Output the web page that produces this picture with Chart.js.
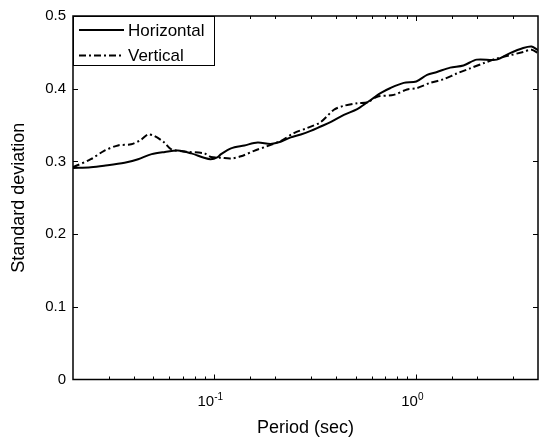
<!DOCTYPE html>
<html><head><meta charset="utf-8">
<script src="https://cdn.jsdelivr.net/npm/chart.js@4.4.0/dist/chart.umd.min.js"></script>
<style>html,body{margin:0;padding:0;background:#fff}#wrap{width:540px;height:440px}</style>
</head><body><div id="wrap"><canvas id="c" width="540" height="440"></canvas></div>
<script>
const seriesNames = ['Horizontal', 'Vertical'];
const periodsH = [0.02,0.0245,0.0285,0.036,0.042,0.049,0.057,0.066,0.077,0.089,0.096,0.104,0.108,0.121,0.141,0.164,0.19,0.213,0.239,0.268,0.30,0.336,0.376,0.438,0.51,0.57,0.62,0.665,0.745,0.866,1.0,1.13,1.265,1.47,1.71,1.99,2.5,2.91,3.38,3.72,4.0];
const valuesH  = [0.291,0.292,0.294,0.298,0.303,0.310,0.313,0.315,0.311,0.305,0.303,0.306,0.310,0.318,0.322,0.326,0.324,0.327,0.333,0.337,0.342,0.348,0.354,0.364,0.372,0.381,0.388,0.394,0.401,0.408,0.410,0.419,0.423,0.429,0.432,0.440,0.440,0.449,0.456,0.458,0.453];
const periodsV = [0.02,0.0245,0.0285,0.0334,0.0388,0.0435,0.047,0.0506,0.0566,0.0611,0.0711,0.0893,0.0963,0.108,0.121,0.1355,0.1575,0.183,0.213,0.248,0.289,0.336,0.391,0.438,0.51,0.571,0.64,0.773,0.90,1.0,1.172,1.364,1.588,1.846,2.148,2.5,2.91,3.38,3.72,4.0];
const valuesV  = [0.292,0.303,0.3145,0.322,0.3235,0.330,0.337,0.335,0.326,0.317,0.3135,0.311,0.306,0.305,0.304,0.307,0.3145,0.321,0.328,0.339,0.346,0.354,0.371,0.3765,0.380,0.381,0.389,0.3915,0.399,0.4006,0.408,0.413,0.421,0.428,0.435,0.4415,0.446,0.4506,0.4537,0.449];
const yTickValues = [0, 0.1, 0.2, 0.3, 0.4, 0.5];
const xTickLabels = [{value: 0.1, base: '10', exp: '-1'}, {value: 1, base: '10', exp: '0'}];
const xRange = [0.02, 4];
const yRange = [0, 0.5];

function pts(xs, ys) { return xs.map((x, i) => ({x: x, y: ys[i]})); }

const FONT = 'Arial, "Liberation Sans", sans-serif';

const framePlugin = {
  id: 'frame',
  afterDraw(chart) {
    const {ctx, chartArea: a, scales: {x, y}} = chart;
    ctx.save();
    ctx.strokeStyle = '#000';
    ctx.lineWidth = 1.5;
    ctx.setLineDash([]);
    ctx.strokeRect(a.left, a.top, a.right - a.left, a.bottom - a.top);
    // x ticks (inward, bottom & top)
    ctx.lineWidth = 1;
    x.ticks.forEach(t => {
      const v = t.value;
      if (v <= xRange[0] || v >= xRange[1]) return;
      const px = Math.round(x.getPixelForValue(v)) + 0.5;
      const lg = Math.log10(v);
      const major = Math.abs(lg - Math.round(lg)) < 1e-9;
      const len = major ? 5 : 3;
      ctx.beginPath();
      ctx.moveTo(px, a.bottom); ctx.lineTo(px, a.bottom - len);
      ctx.moveTo(px, a.top); ctx.lineTo(px, a.top + len);
      ctx.stroke();
    });
    // y ticks (inward, left & right)
    yTickValues.forEach(v => {
      if (v <= yRange[0] || v >= yRange[1]) return;
      const py = Math.round(y.getPixelForValue(v)) + 0.5;
      ctx.beginPath();
      ctx.moveTo(a.left, py); ctx.lineTo(a.left + 5, py);
      ctx.moveTo(a.right, py); ctx.lineTo(a.right - 5, py);
      ctx.stroke();
    });
    // x tick labels with superscript
    ctx.fillStyle = '#000';
    ctx.textBaseline = 'alphabetic';
    ctx.textAlign = 'left';
    xTickLabels.forEach(l => {
      const px = x.getPixelForValue(l.value);
      ctx.font = '15px ' + FONT;
      const wb = ctx.measureText(l.base).width;
      ctx.font = '10px ' + FONT;
      const we = ctx.measureText(l.exp).width;
      const start = px - 4 - (wb + we) / 2;
      ctx.font = '15px ' + FONT;
      ctx.fillText(l.base, start, a.bottom + 26);
      ctx.font = '10px ' + FONT;
      ctx.fillText(l.exp, start + wb, a.bottom + 20);
    });
    // legend
    const lx = a.left, ly = a.top, lw = 141, lh = 49;
    ctx.fillStyle = '#fff';
    ctx.fillRect(lx, ly, lw, lh);
    ctx.strokeStyle = '#000';
    ctx.lineWidth = 1;
    ctx.strokeRect(lx + 0.5, ly + 0.5, lw, lh);
    chart.data.datasets.forEach((ds, i) => {
      const yy = ly + 14 + i * 25.5;
      ctx.beginPath();
      ctx.lineWidth = ds.borderWidth;
      ctx.setLineDash(ds.borderDash || []);
      ctx.moveTo(lx + 6, yy); ctx.lineTo(lx + 51, yy);
      ctx.stroke();
      ctx.setLineDash([]);
      ctx.fillStyle = '#000';
      ctx.font = '17px ' + FONT;
      ctx.textBaseline = 'middle';
      ctx.fillText(ds.label, lx + 55, yy + 1);
    });
    ctx.restore();
  }
};

new Chart(document.getElementById('c'), {
  type: 'line',
  data: {
    datasets: [
      {label: seriesNames[0], data: pts(periodsH, valuesH), borderColor: '#000', borderWidth: 2, pointRadius: 0, tension: 0.3, fill: false},
      {label: seriesNames[1], data: pts(periodsV, valuesV), borderColor: '#000', borderWidth: 2, borderDash: [7, 3, 2, 3], pointRadius: 0, tension: 0.3, fill: false}
    ]
  },
  options: {
    responsive: false,
    animation: false,
    devicePixelRatio: 1,
    layout: {padding: {left: 0, top: 12, right: 2, bottom: 0}},
    plugins: {legend: {display: false}, tooltip: {enabled: false}},
    scales: {
      x: {
        type: 'logarithmic', min: xRange[0], max: xRange[1],
        grid: {display: false, drawTicks: false},
        border: {display: false},
        ticks: {display: false},
        title: {display: true, text: 'Period (sec)', color: '#000', font: {family: FONT, size: 18}, padding: {top: 0, bottom: 1}},
        afterFit: s => { s.height = 60.5; }
      },
      y: {
        min: yRange[0], max: yRange[1],
        grid: {display: false, drawTicks: false},
        border: {display: false},
        afterBuildTicks: s => { s.ticks = yTickValues.map(v => ({value: v})); },
        ticks: {color: '#000', padding: 7, font: {family: FONT, size: 15}, callback: v => String(+Number(v).toFixed(1))},
        title: {display: true, text: 'Standard deviation', color: '#000', font: {family: FONT, size: 18}, padding: {top: 8, bottom: 0}},
        afterFit: s => { s.width = 73; }
      }
    }
  },
  plugins: [framePlugin]
});
</script></body></html>
